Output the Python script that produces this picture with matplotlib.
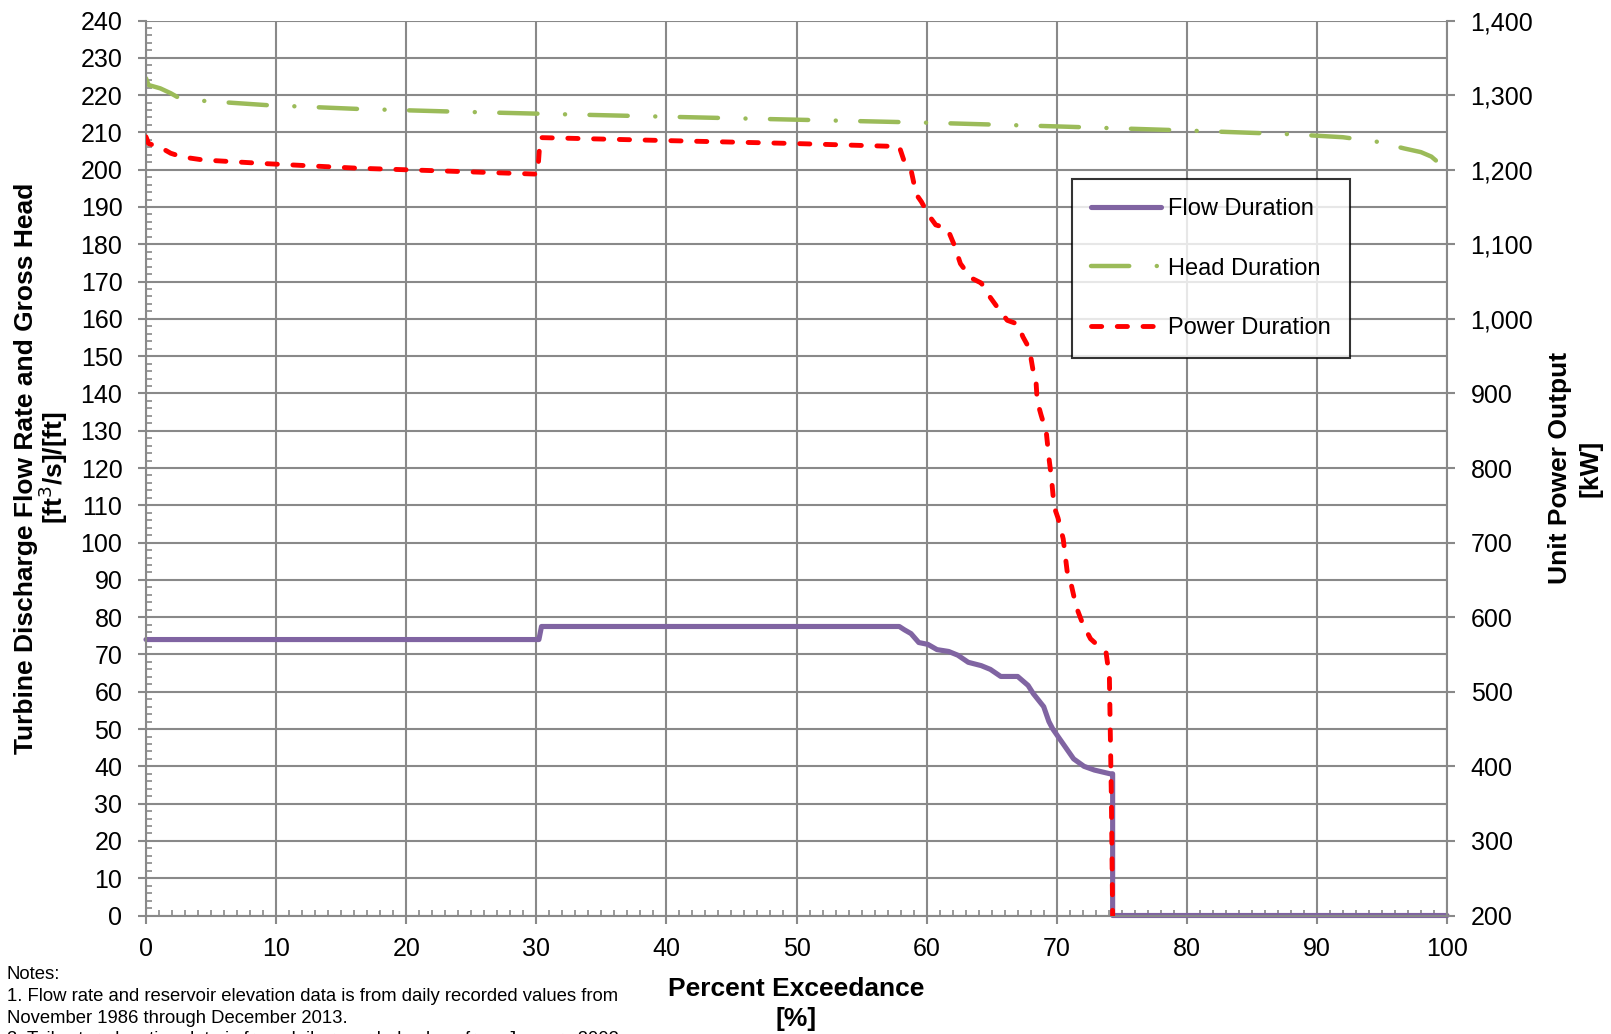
import numpy as np
import matplotlib
matplotlib.use("Agg")
import matplotlib.pyplot as plt
from matplotlib.ticker import MultipleLocator, FuncFormatter

plt.rcParams['font.family'] = ['Liberation Sans', 'DejaVu Sans']

# 流量 (左軸, ft3/s)
flow_x = [0, 30.2, 30.4, 57.9, 58.3, 58.8, 59.4, 60.1, 60.8, 61.7, 62.4, 63.2, 64.2, 64.9,
          65.7, 67.0, 67.8, 68.2, 69.0, 69.4, 69.7, 70.5, 71.3, 72.1, 72.9, 74.1, 74.3, 74.3, 100]
flow_y = [74, 74, 77.5, 77.5, 76.6, 75.6, 73.2, 72.7, 71.3, 70.8, 69.8, 67.9, 67.0, 66.0,
          64.1, 64.1, 61.7, 59.5, 56.0, 52.0, 50.0, 46.0, 42.0, 40.0, 39.0, 38.0, 38.0, 0, 0]

# 落差 (左軸, ft)
head_x = [0, 0.2, 1.1, 1.9, 2.5, 4.2, 9.3, 16.2, 23.3, 30.3, 40, 50, 60, 70, 80, 88, 92,
          94.6, 96.7, 98.0, 98.8, 99.3, 99.6]
head_y = [224.5, 222.7, 221.8, 220.5, 219.3, 218.5, 217.3, 216.3, 215.6, 215.0, 214.2, 213.4,
          212.6, 211.6, 210.5, 209.5, 208.7, 207.5, 205.7, 204.7, 203.5, 202.0, 200.4]

# 出力 (右軸, kW)
power_x = [0, 0.2, 1.1, 1.9, 2.8, 4.4, 9.3, 16.2, 23.3, 30.1, 30.3, 40, 50, 57.9, 58.3, 58.8,
           59.2, 59.6, 60.2, 60.7, 61.6, 62.1, 62.6, 63.4, 64.2, 64.8, 65.5, 66.2, 67.0, 67.4,
           67.9, 68.2, 68.4, 68.5, 68.8, 69.2, 69.4, 69.6, 69.8, 70.1, 70.5, 70.8, 71.1, 71.5,
           72.0, 72.6, 73.8, 74.05, 74.2, 74.3]
power_y = [1244, 1235, 1230, 1222, 1217, 1213, 1208, 1202, 1198, 1194, 1243, 1239, 1235, 1231,
           1210, 1200, 1167, 1157, 1138, 1126, 1121, 1100, 1074, 1055, 1048, 1031, 1014, 998,
           993, 976, 960, 929, 919, 890, 871, 848, 814, 786, 748, 733, 705, 662, 645, 614, 591,
           571, 552, 520, 360, 200]

grey = '#898989'
W, H = 1611, 1034

fig = plt.figure(figsize=(W/100, H/100), dpi=100)
ax = fig.add_axes([146/W, 1-915.5/H, 1301/W, 895/H])
ax2 = ax.twinx()

l_flow, = ax.plot(flow_x, flow_y, color='#8064A2', lw=3.7, solid_capstyle='round',
                  solid_joinstyle='round', clip_on=False, label='Flow Duration')
l_head, = ax.plot(head_x, head_y, color='#9BBB59', lw=3.2, dash_capstyle='round',
                  dashes=(8.6, 6.2, 0.01, 5.5), label='Head Duration')
l_power, = ax2.plot(power_x, power_y, color='#FF0000', lw=3.5, dash_capstyle='round',
                    dashes=(2.1, 3.2), label='Power Duration')

ax.set_xlim(0, 100)
ax.set_ylim(0, 240)
ax2.set_ylim(200, 1400)

ax.xaxis.set_major_locator(MultipleLocator(10))
ax.xaxis.set_minor_locator(MultipleLocator(1))
ax.yaxis.set_major_locator(MultipleLocator(10))
ax.yaxis.set_minor_locator(MultipleLocator(2))
ax2.yaxis.set_major_locator(MultipleLocator(100))
ax2.yaxis.set_major_formatter(FuncFormatter(lambda v, p: f'{int(v):,}'))

ax.grid(True, which='major', color=grey, lw=1.5)
ax.set_axisbelow(True)

for a in (ax, ax2):
    for s in a.spines.values():
        s.set_visible(False)
ax.spines['left'].set_visible(True)
ax.spines['bottom'].set_visible(True)
ax2.spines['right'].set_visible(True)
for s in (ax.spines['left'], ax.spines['bottom'], ax2.spines['right']):
    s.set_color(grey)
    s.set_linewidth(1.5)

ax.tick_params(which='major', direction='out', length=6, width=1.5, color=grey,
               labelsize=18)
ax.tick_params(axis='y', which='major', pad=11)
ax.tick_params(axis='x', which='major', pad=9.5)
ax.tick_params(which='minor', direction='in', length=4.5, width=1.2, color=grey)
ax2.tick_params(which='major', direction='out', length=6, width=1.5, color=grey,
                labelsize=18, pad=11)

# 軸ラベル (行ごとに配置)
bold = dict(fontsize=19, fontweight='bold', ha='center', va='center')
fig.text(25.7/W, 1-468/H, 'Turbine Discharge Flow Rate and Gross Head', rotation=90, **bold)
fig.text(53.4/W, 1-468/H, '[ft$^3$/s]/[ft]', rotation=90, **bold)
fig.text(1559.6/W, 1-468/H, 'Unit Power Output', rotation=90, **bold)
fig.text(1590.5/W, 1-468/H, '[kW]', rotation=90, **bold)
fig.text(796.5/W, 1-989/H, 'Percent Exceedance', **bold)
fig.text(796.5/W, 1-1019/H, '[%]', **bold)

# 注記 (3行目は元画像でも下端で切れている)
notes = ('Notes:\n'
         '1. Flow rate and reservoir elevation data is from daily recorded values from\n'
         'November 1986 through December 2013.\n'
         '2. Tailwater elevation data is from daily recorded values from January 2002')
fig.text(7/W, 1-966/H, notes, ha='left', va='top', fontsize=13.3, linespacing=1.37)

leg = ax2.legend(handles=[l_flow, l_head, l_power], loc='upper left',
                 bbox_to_anchor=(0.712, 0.823), borderaxespad=0, fontsize=17,
                 frameon=True, fancybox=False, edgecolor='black', handlelength=2.95,
                 labelspacing=1.6, borderpad=0.8, handletextpad=0.3)
leg.get_frame().set_linewidth(1.5)

fig.savefig('out.png', dpi=100)
